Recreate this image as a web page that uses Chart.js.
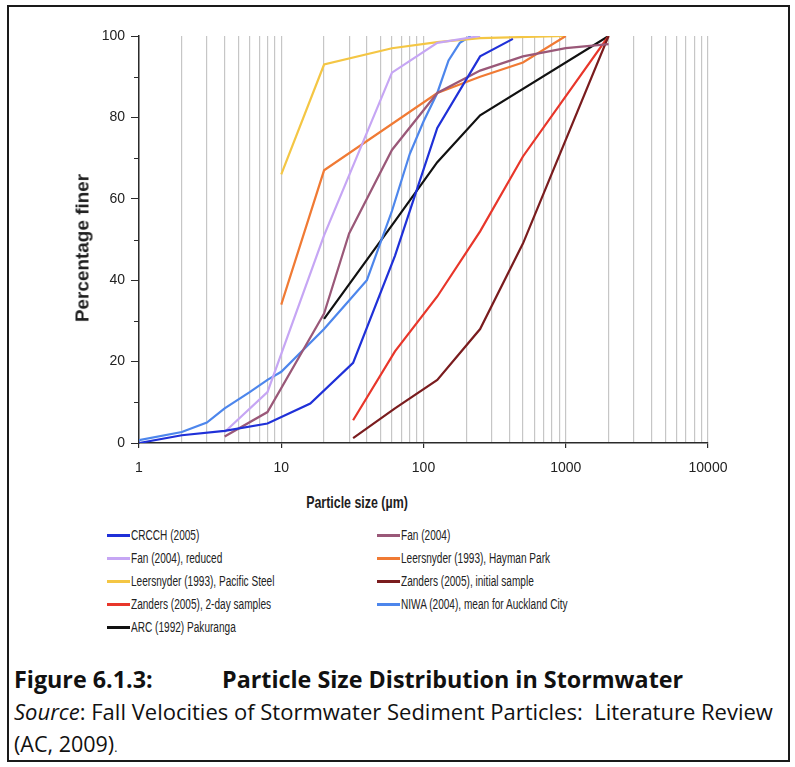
<!DOCTYPE html>
<html><head><meta charset="utf-8">
<script src="https://cdn.jsdelivr.net/npm/chart.js@4.4.1/dist/chart.umd.min.js"></script>
<style>
html,body{margin:0;padding:0;background:#fff;}
body{width:795px;height:767px;position:relative;overflow:hidden;}
#frame{position:absolute;left:7px;top:5px;width:779px;height:753px;border:2px solid #1a1a1a;}
#wrap{position:absolute;left:0;top:0;width:795px;height:480px;}
.txt{position:absolute;white-space:nowrap;color:#1e1e1e;}
.leg{position:absolute;white-space:nowrap;font-family:'Liberation Sans',Arial,sans-serif;font-size:14px;color:#222;line-height:14px;transform:scaleX(0.72);transform-origin:0 50%;}
.sw{position:absolute;height:3px;width:23px;}
#xtitle{font-family:'Liberation Sans',Arial,sans-serif;font-weight:bold;font-size:17px;transform:translate(-50%,-50%) scaleX(0.73);}
#ytitle{font-family:'Liberation Sans',Arial,sans-serif;font-weight:bold;font-size:18px;transform:translate(-50%,-50%) rotate(-90deg) scaleX(1.05);}
.cap{font-family:'Open Sans',Lato,sans-serif;color:#111;line-height:1;}
</style>
</head><body>
<div id="frame"></div>
<div id="wrap"><canvas id="c" width="795" height="480"></canvas></div>
<div id="xtitle" class="txt" style="left:357px;top:503px;">Particle size (µm)</div>
<div id="ytitle" class="txt" style="left:83px;top:248px;">Percentage finer</div>
<div id="legend"></div>
<div class="txt cap" style="left:14px;top:668px;font-size:23.3px;font-weight:bold;">Figure 6.1.3:</div>
<div class="txt cap" style="left:222px;top:668px;font-size:23.3px;font-weight:bold;">Particle Size Distribution in Stormwater</div>
<div class="txt cap" style="left:14px;top:700px;font-size:22px;"><i>Source</i>: Fall Velocities of Stormwater Sediment Particles:&nbsp; Literature Review</div>
<div class="txt cap" style="left:14px;top:733px;font-size:21.5px;">(AC, 2009)<span style="font-size:12px">.</span></div>
<script>
// ---- data (particle size in µm, percentage finer) ----
const seriesNames = [
  'CRCCH (2005)', 'Fan (2004)',
  'Fan (2004), reduced', 'Leersnyder (1993), Hayman Park',
  'Leersnyder (1993), Pacific Steel', 'Zanders (2005), initial sample',
  'Zanders (2005), 2-day samples', 'NIWA (2004), mean for Auckland City',
  'ARC (1992) Pakuranga'
];
const crcchSize   = [1, 2, 4, 8, 16, 32, 63, 125, 250, 425];
const crcchPct    = [0, 1.9, 3, 4.8, 9.7, 19.7, 46, 77.4, 95, 99.3];
const fanSize     = [4, 8, 20, 30, 60, 125, 250, 500, 1000, 2000];
const fanPct      = [1.6, 7.6, 31.8, 51.5, 72, 86, 91.5, 95, 97, 98];
const fanRedSize  = [4, 8, 20, 60, 125, 250];
const fanRedPct   = [2.7, 12.5, 51, 91, 98.3, 100];
const haymanSize  = [10, 20, 125, 250, 500, 1000];
const haymanPct   = [34, 67, 86, 90, 93.5, 100];
const pacificSize = [10, 20, 60, 125, 250, 1000];
const pacificPct  = [66, 93, 97, 98.5, 99.5, 100];
const zanInitSize = [32, 63, 125, 250, 500, 2000];
const zanInitPct  = [1.2, 8.5, 15.5, 28, 49, 100];
const zan2daySize = [32, 63, 125, 250, 500, 2000];
const zan2dayPct  = [5.6, 22.5, 36, 52, 70.4, 100];
const niwaSize    = [1, 2, 3, 4, 6, 8, 10, 20, 30, 40, 60, 80, 100, 125, 150, 180, 215];
const niwaPct     = [0.7, 2.7, 5, 8.5, 12.5, 15.5, 17.5, 28, 35, 40, 57, 71, 79, 86, 94, 98.3, 100];
const arcSize     = [20, 63, 125, 250, 2000];
const arcPct      = [30.5, 54.5, 69, 80.5, 100];
const xTickLabels = [1, 10, 100, 1000, 10000];
const yTickLabels = [0, 20, 40, 60, 80, 100];

const seriesColors = ['#1f30d8', '#9a5878', '#c6a6f4', '#f07a34', '#f4c644',
                      '#7a1c1e', '#e8362a', '#4d86ec', '#111111'];
const sizes = [crcchSize, fanSize, fanRedSize, haymanSize, pacificSize, zanInitSize, zan2daySize, niwaSize, arcSize];
const pcts  = [crcchPct, fanPct, fanRedPct, haymanPct, pacificPct, zanInitPct, zan2dayPct, niwaPct, arcPct];

const datasets = seriesNames.map((name, i) => ({
  label: name,
  data: sizes[i].map((s, j) => ({x: s, y: pcts[i][j]})),
  borderColor: seriesColors[i],
  backgroundColor: seriesColors[i],
  borderWidth: 2.2,
  pointRadius: 0,
  tension: 0,
  fill: false
}));

// legend (HTML, two columns)
const leg = document.getElementById('legend');
seriesNames.forEach((name, i) => {
  const col = i % 2, row = Math.floor(i / 2);
  const cy = 535 + row * 23;
  const lx = col === 0 ? 107 : 377;
  const sw = document.createElement('div');
  sw.className = 'sw';
  sw.style.left = lx + 'px';
  sw.style.top = (cy - 1.5) + 'px';
  sw.style.background = seriesColors[i];
  leg.appendChild(sw);
  const t = document.createElement('div');
  t.className = 'leg';
  t.style.left = (lx + 24) + 'px';
  t.style.top = (cy - 7) + 'px';
  t.textContent = name;
  leg.appendChild(t);
});

const isMajor = v => xTickLabels.some(m => Math.abs(m - v) < 1e-6);
const isGrid = v => { const e = Math.pow(10, Math.floor(Math.log10(v) + 1e-9)); const m = v / e; return Math.abs(m - Math.round(m)) < 1e-6; };

// shorter tick marks for the unlabelled (minor) y ticks
const minorTicks = {
  id: 'minorTicks',
  afterDraw(chart) {
    const y = chart.scales.y, ctx = chart.ctx, left = chart.chartArea.left;
    ctx.save();
    ctx.strokeStyle = '#2a2a2a';
    ctx.lineWidth = 1;
    y.ticks.forEach(t => {
      if (yTickLabels.includes(t.value)) return;
      const py = Math.round(y.getPixelForValue(t.value)) + 0.5;
      ctx.beginPath(); ctx.moveTo(left - 5, py); ctx.lineTo(left, py); ctx.stroke();
    });
    ctx.restore();
  }
};

new Chart(document.getElementById('c'), {
  type: 'line',
  data: { datasets },
  plugins: [minorTicks],
  options: {
    responsive: false,
    animation: false,
    layout: { padding: { left: 0, top: 36, right: 87, bottom: 0 } },
    plugins: { legend: { display: false }, tooltip: { enabled: false } },
    scales: {
      x: {
        type: 'logarithmic', min: 1, max: 10000,
        afterFit(s) { s.height = 480 - 443; },
        border: { display: true, color: '#2a2a2a', width: 1.5 },
        grid: {
          color: c => (c.tick && isGrid(c.tick.value)) ? '#c6c6c6' : 'rgba(0,0,0,0)',
          lineWidth: 1.2,
          drawTicks: true, tickLength: 5,
          tickColor: c => (c.tick && isMajor(c.tick.value)) ? '#2a2a2a' : 'rgba(0,0,0,0)'
        },
        ticks: {
          autoSkip: false, maxRotation: 0, padding: 12, color: '#222',
          font: { family: "'Liberation Sans', Arial, sans-serif", size: 14 },
          callback: v => isMajor(v) ? String(v) : ''
        }
      },
      y: {
        min: 0, max: 100,
        afterFit(s) { s.width = 139; },
        border: { display: true, color: '#2a2a2a', width: 1.5 },
        grid: {
          drawOnChartArea: false, drawTicks: true, tickLength: 8,
          tickColor: c => (c.tick && yTickLabels.includes(c.tick.value)) ? '#2a2a2a' : 'rgba(0,0,0,0)'
        },
        ticks: {
          stepSize: 10, padding: 6, color: '#222',
          font: { family: "'Liberation Sans', Arial, sans-serif", size: 14 },
          callback: v => yTickLabels.includes(v) ? String(v) : ''
        }
      }
    }
  }
});
</script>
</body></html>
